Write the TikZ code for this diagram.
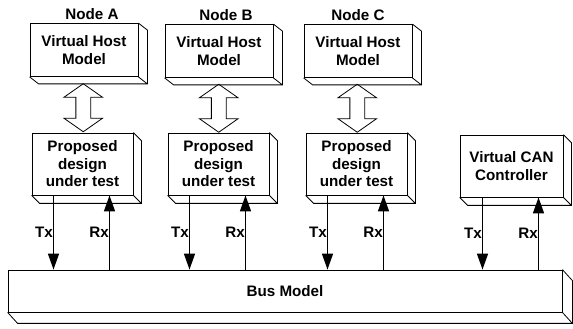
\documentclass[tikz,border=0pt]{standalone}
\usepackage{fontspec}
\setmainfont{Liberation Sans}
\usetikzlibrary{positioning, arrows.meta, shapes.arrows, calc}

\begin{document}
\begin{tikzpicture}[x=1pt, y=1pt, >={Triangle[length=16pt, width=11pt]},
    font=\fontsize{15.2}{17.5}\selectfont\bfseries,
    slab/.style={draw, line width=0.8pt, rectangle, align=center, inner sep=2pt},
    host/.style={slab, minimum width=108pt, minimum height=53pt},
    dut/.style={slab, minimum width=101pt, minimum height=62pt},
    link/.style={double arrow, draw, line width=0.8pt, rotate=90, inner sep=7pt,
      minimum height=48pt, double arrow head extend=12pt, double arrow tip angle=110},
    sig/.style={->, line width=1.4pt}]
  \useasboundingbox (0,0) rectangle (573,329);

  % hosts on top
  \node[host, label={[inner sep=3pt, xshift=8pt]above:Node A}] (hostA) at (84,279) {Virtual Host\\Model};
  \node[host, label={[inner sep=3pt, xshift=7pt]above:Node B}] (hostB) at (219,278) {Virtual Host\\Model};
  \node[host, label={[inner sep=3pt]above:Node C}] (hostC) at (358,278) {Virtual Host\\Model};

  % designs and the CAN controller
  \node[dut] (dutA) at (82.5,165) {Proposed\\design\\under test};
  \node[dut] (dutB) at (218.5,165) {Proposed\\design\\under test};
  \node[dut] (dutC) at (356.5,165) {Proposed\\design\\under test};
  \node[dut, minimum width=103pt] (can) at (511.5,163) {Virtual CAN\\Controller};

  \node[slab, minimum width=554pt, minimum height=42pt] (bus) at (285,38) {Bus Model};

  % depth of the boxes
  \foreach \n/\dx/\dy in {hostA/9/7, hostB/9/7, hostC/9/7, dutA/8/8, dutB/8/8, dutC/8/8, can/8/8, bus/10/11}
    \draw[line width=0.8pt] (\n.north east) -- ++(\dx,-\dy) |- ($(\n.south west)+(\dx,-\dy)$)
      -- (\n.south west) (\n.south east) -- ++(\dx,-\dy);

  % host <-> design
  \node[link] (lkA) at ($(hostA.south)!0.5!(dutA.north)+(0,-3)$) {};
  \node[link] (lkB) at ($(hostB.south)!0.5!(dutB.north)+(0,-3)$) {};
  \node[link] (lkC) at ($(hostC.south)!0.5!(dutC.north)+(0,-3)$) {};

  % Tx / Rx to the bus
  \foreach \n in {dutA, dutB, dutC, can} {
    \draw[sig] ([xshift=-29pt]\n.south) -- ([xshift=-29pt]\n.south |- bus.north)
      node[midway, left, inner sep=0pt] {Tx};
    \draw[sig] ([xshift=27pt]\n.south |- bus.north) -- ([xshift=27pt]\n.south)
      node[midway, left, inner sep=0pt] {Rx};
  }
\end{tikzpicture}
\end{document}
